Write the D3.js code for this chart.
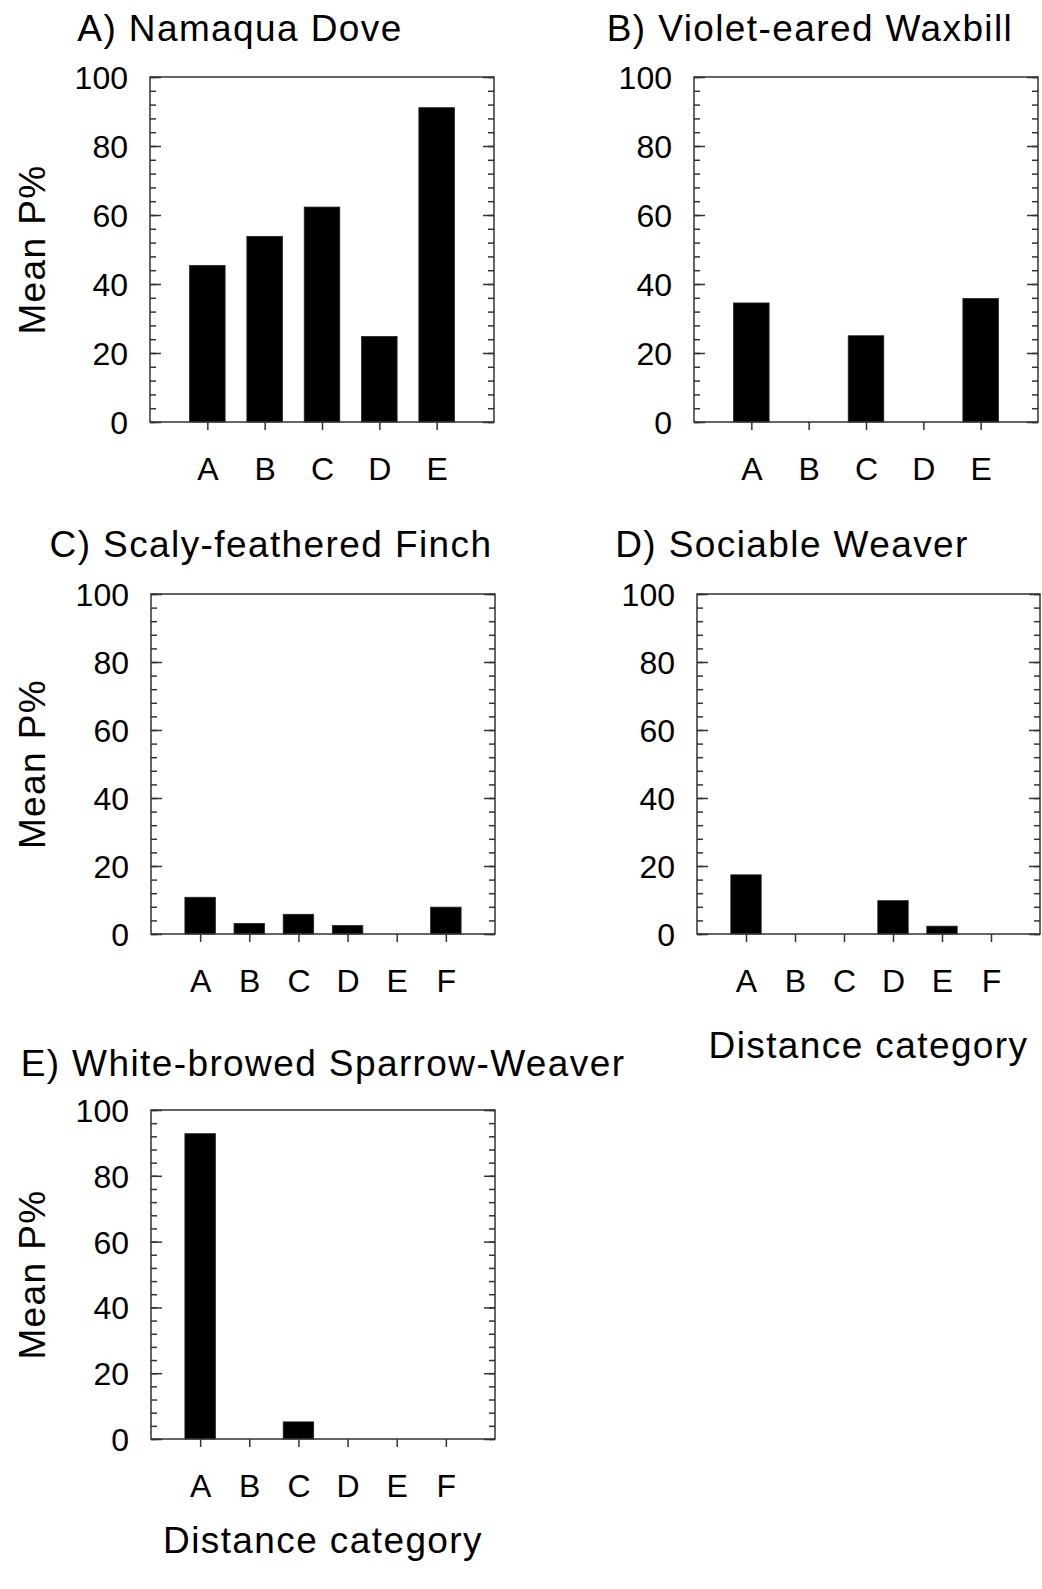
<!DOCTYPE html>
<html>
<head>
<meta charset="utf-8">
<script src="https://cdn.jsdelivr.net/npm/d3@7"></script>
<style>
  body { margin: 0; background: #fff; }
  svg text { font-family: Arial, "Liberation Sans", Helvetica, sans-serif; fill: #000; }
</style>
</head>
<body>
<div id="chart"></div>
<script>
// categories
var catsFive = ["A", "B", "C", "D", "E"];
var catsSix = ["A", "B", "C", "D", "E", "F"];

// mean P% per distance category
var namaquaDove = [45.4, 53.8, 62.3, 24.8, 91.1];
var violetWaxbill = [34.5, 0, 25.0, 0, 35.8];
var scalyFinch = [10.8, 3.1, 5.8, 2.5, 0, 7.9];
var sociableWeaver = [17.4, 0, 0, 9.8, 2.3, 0];
var sparrowWeaver = [92.8, 0, 5.2, 0, 0, 0];

var yMajor = [0, 20, 40, 60, 80, 100];
var yMinor = d3.range(0, 101, 4);

var titles = ["A) Namaqua Dove", "B) Violet-eared Waxbill", "C) Scaly-feathered Finch",
              "D) Sociable Weaver", "E) White-browed Sparrow-Weaver"];

// panel boxes in page pixels
var panels = [
  { cats: catsFive, vals: namaquaDove,   x0: 150, x1: 494,  y0: 77,   y1: 422,  tx: 240, ty: 41,   yLab: true,  xLab: 0 },
  { cats: catsFive, vals: violetWaxbill, x0: 694, x1: 1038, y0: 77,   y1: 422,  tx: 810, ty: 41,   yLab: false, xLab: 0 },
  { cats: catsSix,  vals: scalyFinch,    x0: 151, x1: 495,  y0: 594,  y1: 934,  tx: 271, ty: 557,  yLab: true,  xLab: 0 },
  { cats: catsSix,  vals: sociableWeaver,x0: 697, x1: 1040, y0: 594,  y1: 934,  tx: 792, ty: 557,  yLab: false, xLab: 124 },
  { cats: catsSix,  vals: sparrowWeaver, x0: 151, x1: 495,  y0: 1110, y1: 1439, tx: 323, ty: 1076, yLab: true,  xLab: 114 }
];

var svg = d3.select("#chart")
  .append("svg")
    .attr("width", 1042)
    .attr("height", 1589);

var frameColor = "#333";

panels.forEach(function(p, i) {
  var width = p.x1 - p.x0,
      height = p.y1 - p.y0;

  var g = svg.append("g")
    .attr("transform", "translate(" + p.x0 + "," + p.y0 + ")");

  var x = d3.scalePoint()
    .domain(p.cats)
    .range([0, width])
    .padding(1);

  var y = d3.scaleLinear()
    .domain([0, 100])
    .range([height, 0]);

  var barW = x.step() * 0.62;

  // bars
  g.append("g")
    .selectAll("rect")
    .data(p.vals.map(function(v, j) { return { c: p.cats[j], v: v }; }))
    .enter()
    .append("rect")
      .attr("x", function(d) { return x(d.c) - barW / 2; })
      .attr("y", function(d) { return y(d.v); })
      .attr("width", barW)
      .attr("height", function(d) { return height - y(d.v); })
      .style("fill", "#000")
      .style("stroke", "#222")
      .style("stroke-width", 0.8);

  // minor ticks, both sides, inward
  var minorL = g.append("g")
    .call(d3.axisLeft(y).tickValues(yMinor).tickSize(-6).tickFormat(""));
  var minorR = g.append("g")
    .attr("transform", "translate(" + width + ",0)")
    .call(d3.axisRight(y).tickValues(yMinor).tickSize(-6).tickFormat(""));

  // major ticks, both sides, inward
  var majorL = g.append("g")
    .call(d3.axisLeft(y).tickValues(yMajor).tickSizeInner(-11).tickSizeOuter(0).tickPadding(22));
  var majorR = g.append("g")
    .attr("transform", "translate(" + width + ",0)")
    .call(d3.axisRight(y).tickValues(yMajor).tickSize(-11).tickFormat(""));

  // x axis, ticks outward
  var xAxis = g.append("g")
    .attr("transform", "translate(0," + height + ")")
    .call(d3.axisBottom(x).tickSizeInner(8).tickSizeOuter(0).tickPadding(27));

  [minorL, minorR, majorL, majorR, xAxis].forEach(function(a) {
    a.select(".domain").remove();
    a.selectAll("line").style("stroke", frameColor).style("stroke-width", 1.5);
  });

  majorL.selectAll("text")
    .style("font-size", "32px")
    .attr("dy", "0.36em");

  xAxis.selectAll("text")
    .style("font-size", "32px")
    .attr("dy", "0.71em");

  // frame
  g.append("rect")
    .attr("width", width)
    .attr("height", height)
    .style("fill", "none")
    .style("stroke", frameColor)
    .style("stroke-width", 1.5);

  // panel title
  svg.append("text")
    .attr("x", p.tx)
    .attr("y", p.ty)
    .attr("text-anchor", "middle")
    .style("font-size", "37px")
    .style("letter-spacing", "1.4px")
    .text(titles[i]);

  if (p.yLab) {
    svg.append("text")
      .attr("transform", "translate(45," + (p.y0 + height / 2) + ") rotate(-90)")
      .attr("text-anchor", "middle")
      .style("font-size", "37px")
      .style("letter-spacing", "1.4px")
      .text("Mean P%");
  }

  if (p.xLab) {
    svg.append("text")
      .attr("x", p.x0 + width / 2)
      .attr("y", p.y1 + p.xLab)
      .attr("text-anchor", "middle")
      .style("font-size", "37px")
      .style("letter-spacing", "1.4px")
      .text("Distance category");
  }
});
</script>
</body>
</html>
